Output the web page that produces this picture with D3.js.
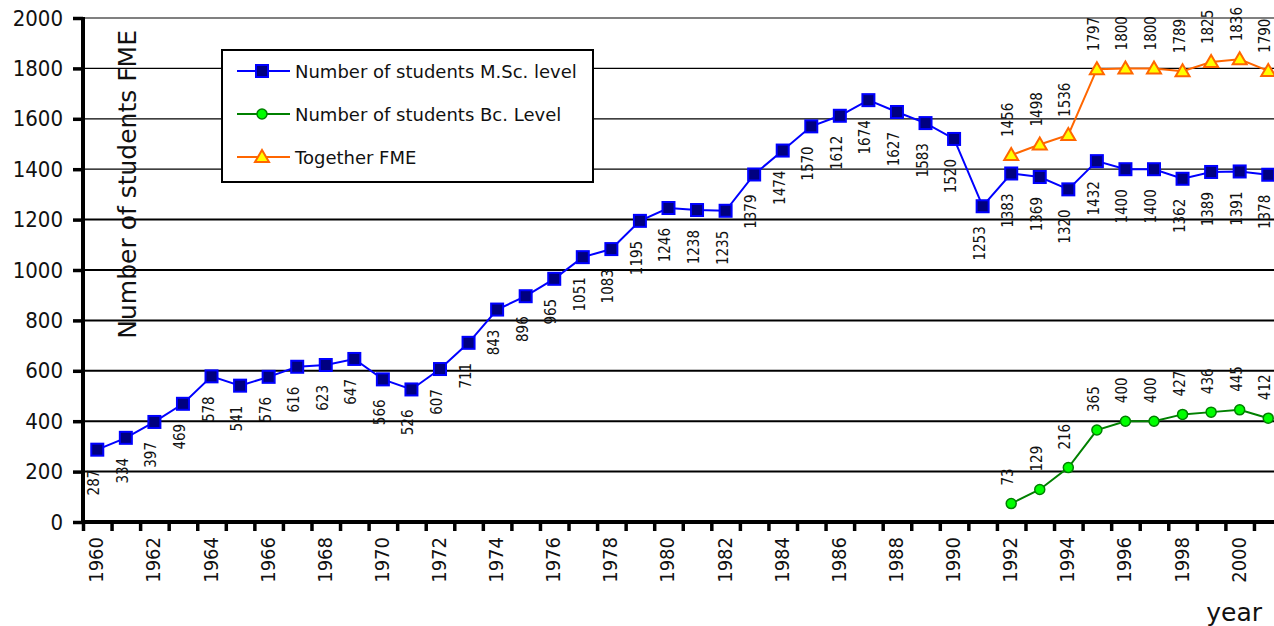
<!DOCTYPE html>
<html>
<head>
<meta charset="utf-8">
<script src="https://cdn.jsdelivr.net/npm/d3@7"></script>
<style>
  body { margin: 0; background: #fff; }
  svg { display: block; font-family: "DejaVu Sans Condensed", "Liberation Sans", sans-serif; }
</style>
</head>
<body>
<svg id="chart" width="1274" height="626"></svg>
<script>
// values
const years = d3.range(1960, 2002);
const mscStudents = [287, 334, 397, 469, 578, 541, 576, 616, 623, 647,
                     566, 526, 607, 711, 843, 896, 965, 1051, 1083, 1195,
                     1246, 1238, 1235, 1379, 1474, 1570, 1612, 1674, 1627, 1583,
                     1520, 1253, 1383, 1369, 1320, 1432, 1400, 1400, 1362, 1389,
                     1391, 1378];
const bcYears = d3.range(1992, 2002);
const bcStudents = [73, 129, 216, 365, 400, 400, 427, 436, 445, 412];
const togetherFME = [1456, 1498, 1536, 1797, 1800, 1800, 1789, 1825, 1836, 1790];
const yTicks = [0, 200, 400, 600, 800, 1000, 1200, 1400, 1600, 1800, 2000];
const yearLabels = d3.range(1960, 2002, 2);

const series = [
    { name: 'Number of students M.Sc. level', years: years, values: mscStudents,
      line: '#0000ff', fill: '#000080', marker: 'square', labelPos: 'below' },
    { name: 'Number of students Bc. Level', years: bcYears, values: bcStudents,
      line: '#008000', fill: '#00ff00', marker: 'circle', labelPos: 'above' },
    { name: 'Together FME', years: bcYears, values: togetherFME,
      line: '#ff6600', fill: '#ffff00', marker: 'triangle', labelPos: 'above' }
];

const svg = d3.select('#chart');
const plotLeft = 83, plotBottom = 522, plotTop = 18;
const band = 28.56;
const wideFont = '"DejaVu Sans", "Liberation Sans", sans-serif';

const x = d3.scaleBand().domain(years).range([plotLeft, plotLeft + band * years.length]).padding(0);
const xEdge = d3.scaleLinear().domain([1960, 2002]).range([plotLeft, plotLeft + band * years.length]);
const y = d3.scaleLinear().domain([0, 2000]).range([plotBottom, plotTop]);
const cx = yr => x(yr) + x.bandwidth() / 2;

// grid lines
svg.append('g')
    .selectAll('line')
    .data(yTicks.filter(v => v > 0))
    .enter()
    .append('line')
        .attr('x1', plotLeft).attr('x2', 1274)
        .attr('y1', d => y(d)).attr('y2', d => y(d))
        .attr('stroke', d => d === 2000 ? '#808080' : '#000')
        .attr('stroke-width', d => d >= 1400 ? (d === 2000 ? 2 : 1.2) : 2);

// axes
const yAxis = svg.append('g')
    .attr('transform', 'translate(' + plotLeft + ',0)')
    .call(d3.axisLeft(y).tickValues(yTicks).tickSize(10).tickPadding(10).tickFormat(d3.format('d')));
yAxis.select('.domain').remove();
yAxis.selectAll('.tick line').attr('stroke', '#000').attr('stroke-width', 3.5);
yAxis.selectAll('.tick text')
    .attr('font-size', 22).attr('fill', '#111')
    .attr('font-family', '"DejaVu Sans Condensed", "Liberation Sans", sans-serif');
svg.append('line')
    .attr('x1', plotLeft).attr('x2', plotLeft).attr('y1', plotTop - 1).attr('y2', plotBottom + 2)
    .attr('stroke', '#000').attr('stroke-width', 4);

const xTicks = svg.append('g')
    .attr('transform', 'translate(0,' + plotBottom + ')')
    .call(d3.axisBottom(xEdge).tickValues(d3.range(1960, 2003)).tickSize(9).tickFormat(''));
xTicks.select('.domain').remove();
xTicks.selectAll('.tick line').attr('stroke', '#000').attr('stroke-width', 3.5);

const xLabels = svg.append('g')
    .attr('transform', 'translate(0,' + plotBottom + ')')
    .call(d3.axisBottom(x).tickValues(yearLabels).tickSize(0).tickPadding(0));
xLabels.select('.domain').remove();
xLabels.selectAll('.tick text')
    .attr('font-size', 20).attr('fill', '#111')
    .attr('font-family', '"DejaVu Sans Condensed", "Liberation Sans", sans-serif')
    .attr('text-anchor', 'end')
    .attr('dy', null)
    .attr('dominant-baseline', 'central')
    .attr('transform', 'translate(-1,15) rotate(-90)')
    .attr('y', 0);

svg.append('line')
    .attr('x1', plotLeft - 2).attr('x2', 1274).attr('y1', plotBottom).attr('y2', plotBottom)
    .attr('stroke', '#000').attr('stroke-width', 4);

// markers
function drawMarker(sel, s) {
    if (s.marker === 'square') {
        sel.append('rect')
            .attr('x', -6).attr('y', -6).attr('width', 12).attr('height', 12)
            .attr('fill', s.fill).attr('stroke', s.line).attr('stroke-width', 2);
    } else if (s.marker === 'circle') {
        sel.append('circle')
            .attr('r', 5)
            .attr('fill', s.fill).attr('stroke', s.line).attr('stroke-width', 1.5);
    } else {
        sel.append('path')
            .attr('d', 'M0,-7L7,5L-7,5Z')
            .attr('fill', s.fill).attr('stroke', s.line).attr('stroke-width', 2);
    }
}

const line = d3.line();
series.forEach(s => {
    const pts = s.years.map((yr, i) => [cx(yr), y(s.values[i])]);
    svg.append('path')
        .attr('d', line(pts))
        .attr('fill', 'none')
        .attr('stroke', s.line)
        .attr('stroke-width', 2);

    svg.append('g')
        .selectAll('g')
        .data(pts)
        .enter()
        .append('g')
            .attr('transform', d => 'translate(' + d[0] + ',' + d[1] + ')')
            .each(function() { drawMarker(d3.select(this), s); });

    svg.append('g')
        .selectAll('text')
        .data(s.values)
        .enter()
        .append('text')
            .attr('transform', (d, i) => {
                const px = cx(s.years[i]) - 3;
                const py = y(d) + (s.labelPos === 'below' ? 20 : -18);
                return 'translate(' + px + ',' + py + ') rotate(-90)';
            })
            .attr('text-anchor', s.labelPos === 'below' ? 'end' : 'start')
            .attr('dominant-baseline', 'central')
            .attr('font-size', 15)
            .attr('fill', '#111')
            .text(d => d);
});

// legend
const legend = svg.append('g').attr('transform', 'translate(222,50)');
legend.append('rect')
    .attr('width', 371).attr('height', 132)
    .attr('fill', '#fff').attr('stroke', '#000').attr('stroke-width', 2);
series.forEach((s, i) => {
    const ly = 21 + i * 43;
    legend.append('line')
        .attr('x1', 15).attr('x2', 68).attr('y1', ly).attr('y2', ly)
        .attr('stroke', s.line).attr('stroke-width', 2);
    const m = legend.append('g').attr('transform', 'translate(40,' + ly + ')');
    drawMarker(m, s);
    legend.append('text')
        .attr('x', 73).attr('y', ly)
        .attr('dominant-baseline', 'central')
        .attr('font-family', wideFont)
        .attr('font-size', 18).attr('fill', '#111')
        .text(s.name);
});

// axis titles
svg.append('text')
    .attr('transform', 'translate(127,30) rotate(-90)')
    .attr('text-anchor', 'end')
    .attr('dominant-baseline', 'central')
    .attr('font-family', wideFont)
    .attr('font-size', 25).attr('fill', '#111')
    .text('Number of students FME');

svg.append('text')
    .attr('x', 1262).attr('y', 621)
    .attr('text-anchor', 'end')
    .attr('font-family', wideFont)
    .attr('font-size', 25).attr('fill', '#111')
    .text('year');
</script>
</body>
</html>
